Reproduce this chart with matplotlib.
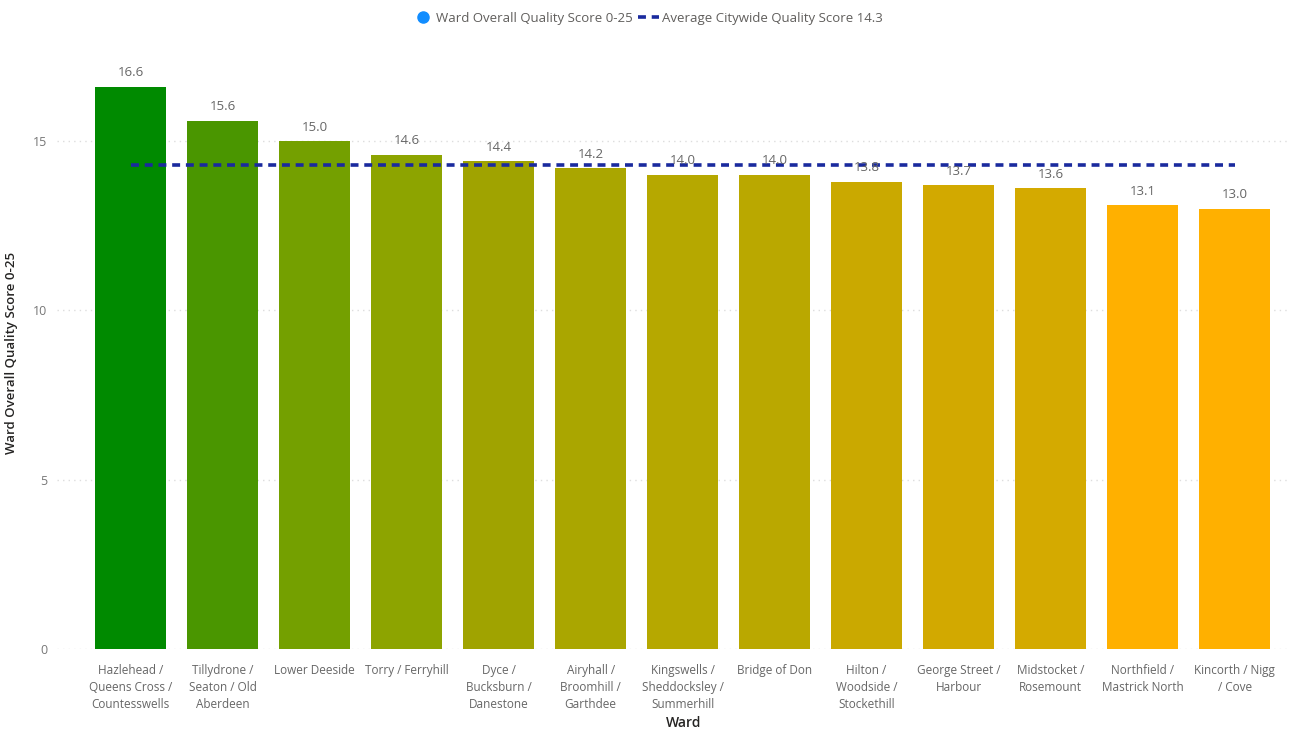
import matplotlib.pyplot as plt

plt.rcParams['font.family'] = ['Open Sans', 'DejaVu Sans']

wards = ["Hazlehead /\nQueens Cross /\nCountesswells", "Tillydrone /\nSeaton / Old\nAberdeen",
         "Lower Deeside", "Torry / Ferryhill", "Dyce /\nBucksburn /\nDanestone",
         "Airyhall /\nBroomhill /\nGarthdee", "Kingswells /\nSheddocksley /\nSummerhill",
         "Bridge of Don", "Hilton /\nWoodside /\nStockethill", "George Street /\nHarbour",
         "Midstocket /\nRosemount", "Northfield /\nMastrick North", "Kincorth / Nigg\n/ Cove"]
scores = [16.6, 15.6, 15.0, 14.6, 14.4, 14.2, 14.0, 14.0, 13.8, 13.7, 13.6, 13.1, 13.0]
average = 14.3

colors = ["#008A00", "#4A9600", "#74A000", "#8DA400", "#A0A300", "#AAA600", "#B6A800",
          "#BAA800", "#CAA900", "#D2A900", "#D4AA00", "#FFB000", "#FFB000"]

fig = plt.figure(figsize=(12.95, 7.31), dpi=100)
ax = fig.add_axes([0.044, 0.112, 0.952, 0.811])

x = range(len(wards))
ax.bar(x, scores, width=0.78, color=colors, zorder=2)
ax.plot([0, len(wards) - 1], [average, average], color="#1A2A9E", lw=2.6,
        linestyle=(0, (2.2, 1.6)), zorder=3)

for i, v in enumerate(scores):
    ax.text(i, v + 0.22, f"{v:.1f}", ha="center", va="bottom", fontsize=9.5,
            color="#666666", zorder=4)

ax.set_xlim(-0.8, 12.6)
ax.set_ylim(0, 17.5)
ax.set_yticks([0, 5, 10, 15])
ax.set_xticks(list(x))
ax.set_xticklabels(wards, fontsize=8.5, color="#666666", linespacing=1.4)
ax.tick_params(axis="y", labelsize=9, labelcolor="#777777", length=0, pad=7)
ax.tick_params(axis="x", length=0, pad=11)
ax.grid(axis="y", color="#dddddd", linestyle=(0, (1, 3)), lw=1, zorder=0)
for s in ax.spines.values():
    s.set_visible(False)

ax.set_ylabel("Ward Overall Quality Score 0-25", fontsize=9.5, color="#252423",
              fontweight="semibold")
ax.yaxis.set_label_coords(-0.032, 0.5)
ax.set_xlabel("Ward", fontsize=10, color="#252423", fontweight="semibold")
ax.xaxis.set_label_coords(0.508, -0.113)

h1 = plt.Line2D([], [], marker="o", color="#118DFF", linestyle="none", markersize=8)
h2 = plt.Line2D([], [], color="#1A2A9E", lw=2.6, linestyle=(0, (2.2, 1.6)))
fig.legend([h1, h2], ["Ward Overall Quality Score 0-25", "Average Citywide Quality Score 14.3"],
           loc="upper center", bbox_to_anchor=(0.5, 1.0), ncol=2, frameon=False,
           fontsize=9.5, labelcolor="#605E5C", handlelength=1.6, handletextpad=0.2,
           columnspacing=0.4)

fig.savefig("out.png", dpi=100)
